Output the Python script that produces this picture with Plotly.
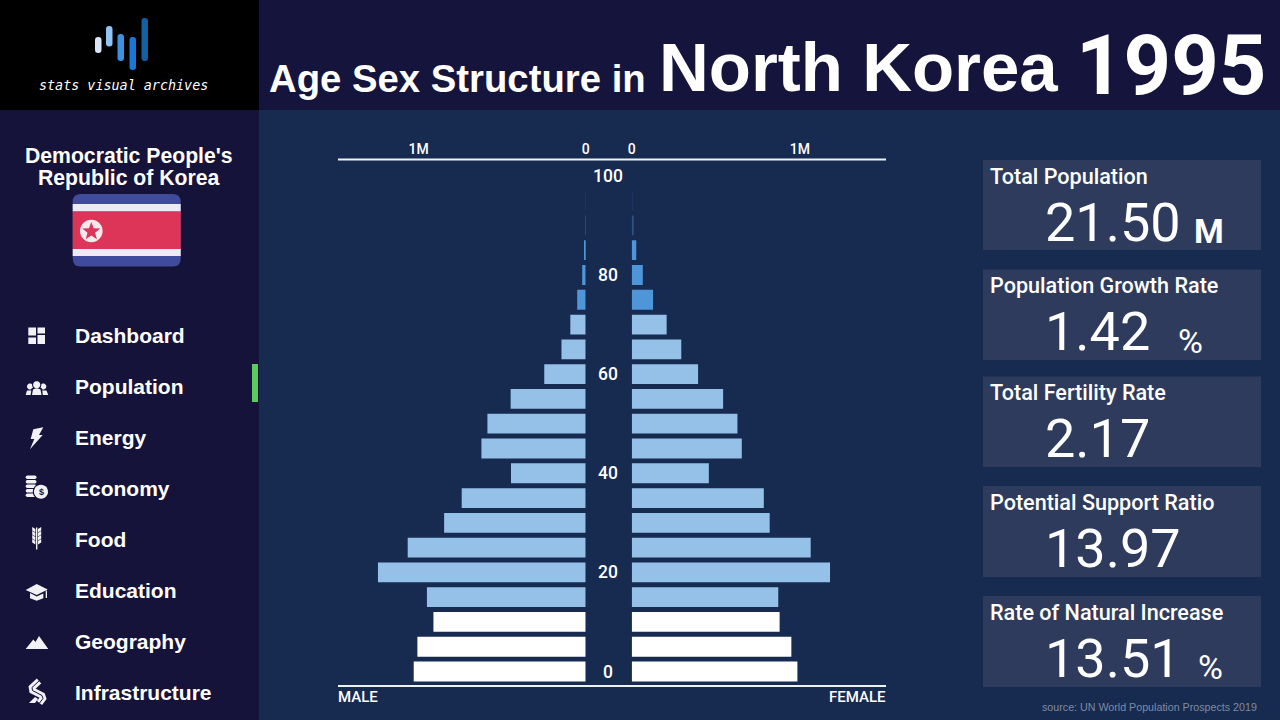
import math
import plotly.graph_objects as go

# ---------- data ----------
AGES = [0, 5, 10, 15, 20, 25, 30, 35, 40, 45, 50, 55, 60, 65, 70, 75, 80, 85, 90, 95]
MALE = [1029000, 1007000, 911000, 950000, 1243000, 1065000, 847000, 742000, 447000, 624000,
        588000, 449000, 248000, 145000, 92000, 51000, 21000, 7000, 4000, 1000]
FEMALE = [986000, 950000, 880000, 872000, 1180000, 1065000, 821000, 786000, 459000, 655000,
          629000, 544000, 395000, 295000, 208000, 127000, 66000, 27000, 6000, 3000]
AGE_TICKS = [0, 20, 40, 60, 80, 100]
POP_TICKS = [0, 1000000]
POP_TICK_LABELS = ["0", "1M"]
NAV_ITEMS = ["Dashboard", "Population", "Energy", "Economy", "Food", "Education", "Geography", "Infrastructure"]
STAT_LABELS = ["Total Population", "Population Growth Rate", "Total Fertility Rate",
               "Potential Support Ratio", "Rate of Natural Increase"]
STAT_VALUES = ["21.50", "1.42", "2.17", "13.97", "13.51"]
STAT_UNITS = ["M", "%", "", "", "%"]

# ---------- styles ----------
W, H = 1280, 720
BG = "#172a50"; SIDE = "#16133a"; TOP = "#15143c"; PANEL = "#2e3b5c"
LIGHT = "#95c0e8"; MID = "#4f96d9"; WHITE = "#ffffff"
SANS = "Liberation Sans"; DIN = "Roboto"

def px(x): return x / W
def py(y): return 1 - y / H
def poly(pts, close=True):
    return "M" + " L".join(f"{px(x):.5f},{py(y):.5f}" for x, y in pts) + (" Z" if close else "")
def rrect(x0, y0, x1, y1, r):
    c = lambda x, y: f"{px(x):.5f},{py(y):.5f}"
    return (f"M{c(x0+r,y0)} L{c(x1-r,y0)} Q{c(x1,y0)} {c(x1,y0+r)} L{c(x1,y1-r)} Q{c(x1,y1)} {c(x1-r,y1)} "
            f"L{c(x0+r,y1)} Q{c(x0,y1)} {c(x0,y1-r)} L{c(x0,y0+r)} Q{c(x0,y0)} {c(x0+r,y0)} Z")
def circle(cx, cy, r, n=28):
    return poly([(cx + r * math.cos(2 * math.pi * i / n), cy + r * math.sin(2 * math.pi * i / n)) for i in range(n)])

shapes = []
def rect(x0, y0, x1, y1, color, layer="below"):
    shapes.append(dict(type="rect", xref="paper", yref="paper", x0=px(x0), x1=px(x1), y0=py(y1), y1=py(y0),
                       fillcolor=color, line_width=0, layer=layer))
def path(d, color, layer="below"):
    shapes.append(dict(type="path", xref="paper", yref="paper", path=d, fillcolor=color, line_width=0, layer=layer))
def stroke(pts, color, width):
    shapes.append(dict(type="path", xref="paper", yref="paper", path=poly(pts, close=False),
                       fillcolor="rgba(0,0,0,0)", line=dict(color=color, width=width), layer="below"))

annotations = []
def text(x, y, s, size, family=SANS, color=WHITE, anchor="left", weight=400, style="normal"):
    annotations.append(dict(xref="paper", yref="paper", x=px(x), y=py(y), text=s, showarrow=False,
                            xanchor=anchor, yanchor="middle", borderpad=0, borderwidth=0,
                            font=dict(family=family, size=size, color=color, weight=weight, style=style)))

# backgrounds
rect(0, 0, W, H, BG)
rect(259, 0, W, 110, TOP)
rect(0, 110, 259, H, SIDE)
rect(0, 0, 259, 110, "#000000")

# logo
for x0, y0, x1, y1, c in [(95, 37, 101.5, 53, "#d8e6f5"), (106, 26, 112.5, 46.5, "#8fc4f5"),
                          (117.5, 34, 124, 61, "#3d8fe0"), (129.5, 37, 136, 70, "#1878d8"),
                          (141.5, 18, 148, 61, "#145f9f")]:
    path(rrect(x0, y0, x1, y1, 3), c)
text(123, 85, "stats visual archives", 13.4, family="DejaVu Sans Mono", anchor="center", style="italic")

# country + flag
text(129, 156, "Democratic People's", 21.2, weight=700, anchor="center")
text(129, 177.5, "Republic of Korea", 21.2, weight=700, anchor="center")
path(rrect(72.7, 194, 180.7, 266.5, 8), "#414b9d")
rect(72.7, 204, 180.7, 211.5, "#ecebf5")
rect(72.7, 249, 180.7, 256, "#ecebf5")
rect(72.7, 211.5, 180.7, 249, "#dc3558")
path(circle(91.3, 231, 11.3), "#f4e9ec")
star = []
for i in range(10):
    r = 9.5 if i % 2 == 0 else 4.0
    a = -math.pi / 2 + i * math.pi / 5
    star.append((91.3 + r * math.cos(a), 231.5 + r * math.sin(a)))
path(poly(star), "#dc3558")

# nav
NAV_Y = [335.5, 386.5, 437.5, 488.5, 539.5, 590.5, 641.5, 692.5]
for name, y in zip(NAV_ITEMS, NAV_Y):
    text(75, y, name, 21, weight=700)
rect(252, 364, 258, 402, "#5ccb5f")

# icons
I = "#f2f2f6"
for a in [(28.3, 327.5, 36, 335.5), (37.5, 327.5, 45, 333.5), (28.3, 337.5, 36, 344), (37.5, 335, 45, 344)]:
    rect(*a, I)
# people
for cx in (30, 43.3):
    path(circle(cx, 386.5, 3), I)
path(poly([(25.7, 395), (27, 390.5), (33, 390.5), (36, 395)]), I)
path(poly([(37.5, 395), (40.5, 390.5), (46.5, 390.5), (48.3, 395)]), I)
path(poly([(30.5, 396), (31.5, 388.5), (35, 387), (38.5, 387), (42, 388.5), (43, 396)]), SIDE)
path(circle(36.7, 384.8, 4.6), SIDE)
path(circle(36.7, 384.8, 3.6), I)
path(poly([(32, 395), (33, 389.5), (35.5, 388.5), (38, 388.5), (40.5, 389.5), (41.5, 395)]), I)
# bolt
path(poly([(33.3, 429.3), (43.3, 427.3), (39, 435), (42.7, 435), (30, 449.3), (34.3, 439), (30.7, 439)]), I)
# coins
for y in [475.5, 480, 484.5, 489, 493.5]:
    path(rrect(25.7, y, 36.5, y + 3.5, 1.7), I)
path(circle(41, 491.7, 8.2), SIDE)
path(circle(41, 491.7, 7), I)
text(41, 491.7, "$", 9, color=SIDE, anchor="center", weight=700)
# wheat
rect(36, 527.5, 37.4, 549.5, I)
for y in [529, 533, 537, 541]:
    path(poly([(32.2, y - 2), (35.4, y), (35.4, y + 3.4), (32.2, y + 1.4)]), I)
    path(poly([(41.2, y - 2), (38, y), (38, y + 3.4), (41.2, y + 1.4)]), I)
# cap
path(poly([(25.7, 590), (36.7, 584), (47.7, 589.5), (36.7, 595)]), I)
path(poly([(30, 593), (36.7, 596.5), (43.3, 593.5), (43.3, 598.3), (36.7, 600.7), (30, 598.3)]), I)
rect(45.7, 590.5, 47, 598, I)
# mountains
path(poly([(25.7, 649), (33.3, 639.5), (35.5, 642), (39, 636), (48.3, 649)]), I)
# road
ROAD = [(39, 681), (32, 687.5), (32.5, 690.5), (42, 695.5), (43, 698.5), (39.5, 703)]
stroke(ROAD, I, 6.5)
stroke(ROAD, SIDE, 1)
path(poly([(29, 703), (35, 697), (38, 699), (35, 703)]), I)

# stat panels
PANEL_Y = [(160, 250), (269.5, 360), (376.5, 467), (486, 577), (596, 687)]
UNIT_X = [1209, 1190, 0, 0, 1210]
for (y0, y1), lab, val, unit, ux in zip(PANEL_Y, STAT_LABELS, STAT_VALUES, STAT_UNITS, UNIT_X):
    rect(983, y0, 1261, y1, PANEL)
    text(990, y0 + 16, lab, 21.6, family=DIN, weight=500)
    text(1045, y0 + 62, val, 54, family=DIN)
    if unit:
        text(ux, y0 + 71, unit, 34, family=DIN, anchor="center", weight=700 if unit == "M" else 400)

# title
text(269, 78, "Age Sex Structure in", 38.3, weight=700)
text(659, 67, "North Korea", 69, weight=700)
text(1076, 65, "1995", 83, family=DIN, weight=700)
text(1257, 707, "source: UN World Population Prospects 2019", 10.7, color="#7e8aa3", anchor="right")

# axis rules
for y in (159.5, 686):
    rect(338, y - 1, 886, y + 1, "#eef1f6", layer="above")
text(338, 697, "MALE", 15, family=DIN, weight=500)
text(886, 697, "FEMALE", 15, family=DIN, weight=500, anchor="right")
# age labels
for a in AGE_TICKS:
    annotations.append(dict(xref="paper", yref="y", x=px(608), y=a, text=str(a), showarrow=False,
                            xanchor="center", yanchor="middle",
                            font=dict(family=DIN, size=17.5, color=WHITE, weight=500)))

def bar_color(age):
    if age < 15:
        return WHITE
    if age < 75:
        return LIGHT
    if age < 90:
        return MID
    return "#2c5488" if age < 95 else "#1e3a68"

fig = go.Figure()
fig.add_bar(y=AGES, x=MALE, orientation="h", width=4, xaxis="x", yaxis="y", name="Male",
            marker=dict(color=[bar_color(a) for a in AGES], line_width=0))
fig.add_bar(y=AGES, x=FEMALE, orientation="h", width=4, xaxis="x2", yaxis="y", name="Female",
            marker=dict(color=[bar_color(a) for a in AGES], line_width=0))

tick_font = dict(family=DIN, size=14, color=WHITE, weight=500)
common = dict(side="top", anchor="y", showgrid=False, zeroline=False, showline=False, ticks="",
              tickmode="array", tickvals=POP_TICKS, ticktext=POP_TICK_LABELS, tickfont=tick_font,
              automargin=False, ticklabelstandoff=2)
fig.update_layout(
    width=W, height=H, margin=dict(l=0, r=0, t=0, b=0, autoexpand=False), showlegend=False, barmode="overlay",
    paper_bgcolor=BG, plot_bgcolor="rgba(0,0,0,0)", shapes=shapes, annotations=annotations,
    xaxis=dict(domain=[px(338), px(585.7)], range=[1482000, 0], **common),
    xaxis2=dict(domain=[px(631.7), px(886)], range=[0, 1513000], **common),
    yaxis=dict(domain=[py(686), py(159.5)], range=[-2.92, 103.3], visible=False),
)
fig.write_html("out.html", config=dict(displayModeBar=False),
               post_script="document.body.style.margin='0';document.body.style.overflow='hidden';")
